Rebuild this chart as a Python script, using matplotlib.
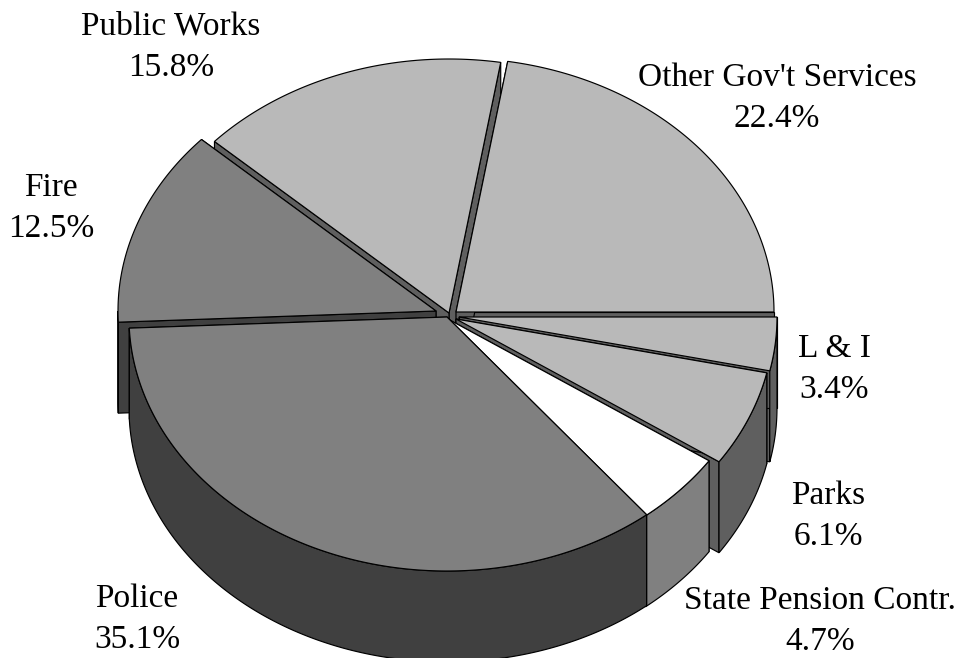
import numpy as np
import matplotlib
matplotlib.use("Agg")
import matplotlib.pyplot as plt
from matplotlib.patches import Polygon

# Budget shares, counter-clockwise from the three o'clock position
categories = ["Other Gov't Services", "Public Works", "Fire", "Police",
              "State Pension Contr.", "Parks", "L & I"]
shares = [22.4, 15.8, 12.5, 35.1, 4.7, 6.1, 3.4]

# Slice styling
top_colors = ["#b9b9b9", "#b9b9b9", "#808080", "#808080", "#ffffff", "#b9b9b9", "#b9b9b9"]
wall_colors = ["#5f5f5f", "#5f5f5f", "#404040", "#404040", "#808080", "#5f5f5f", "#5f5f5f"]

# Exploded slice centres and label anchors, in figure pixels
centers = [(456, 312), (449, 313), (436, 311), (447, 317), (446, 318), (456, 319), (459, 317)]
label_xy = [(777, 98), (171, 47), (51, 208), (137, 619), (820, 621), (828, 516), (834, 369)]

RX, RY, DEPTH = 318, 254, 91
W, H = 959, 658

plt.rcParams["font.family"] = ["Liberation Serif", "DejaVu Serif"]
fig = plt.figure(figsize=(W / 100, H / 100), dpi=100)
ax = fig.add_axes([0, 0, 1, 1])
ax.set_xlim(0, W)
ax.set_ylim(H, 0)
ax.axis("off")


def rim(center, a0, a1):
    """Points on the slice's outer edge between two angles in degrees."""
    t = np.radians(np.linspace(a0, a1, max(int(abs(a1 - a0) * 2), 2)))
    return np.column_stack([center[0] + RX * np.cos(t), center[1] - RY * np.sin(t)])


def face(points, color, z):
    ax.add_patch(Polygon(points, closed=True, facecolor=color, edgecolor="black",
                         linewidth=0.85, joinstyle="miter", zorder=z))


def drop(points):
    return points + np.array([0, DEPTH])


bounds = np.concatenate([[0], np.cumsum(shares)]) * 3.6
# Paint the rear slices first so nearer ones overlap them
paint_order = [1, 0, 2, 6, 5, 4, 3]
for z, i in enumerate(paint_order):
    a0, a1 = bounds[i], bounds[i + 1]
    c = np.array(centers[i], dtype=float)
    arc = rim(c, a0, a1)
    wall = wall_colors[i]
    # Radial cut faces, the front part of the curved wall, then the top surface
    for end in (arc[0], arc[-1]):
        cut = np.array([c, end])
        face(np.vstack([cut, drop(cut)[::-1]]), wall, z * 10 + 1)
    if a1 > 180:
        front = rim(c, max(a0, 180), a1)
        face(np.vstack([front, drop(front)[::-1]]), wall, z * 10 + 2)
    face(np.vstack([c, arc]), top_colors[i], z * 10 + 3)

for name, value, (x, y) in zip(categories, shares, label_xy):
    ax.text(x, y, f"{name}\n{value}%", ha="center", va="center", fontsize=24,
            linespacing=1.46, color="black", zorder=200)

fig.savefig("out.png", dpi=100, facecolor="white")
